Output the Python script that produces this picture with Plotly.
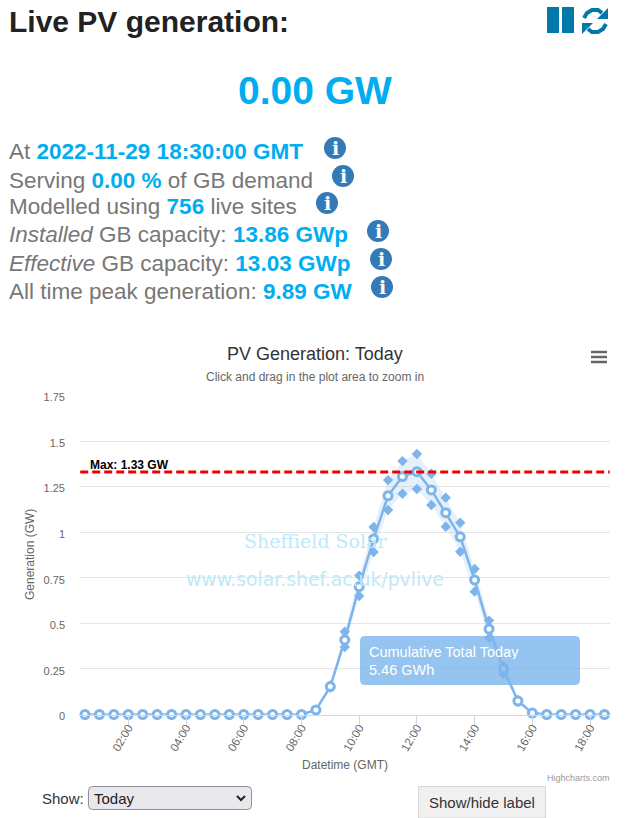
import plotly.graph_objects as go

W, H = 640, 818
times = ["00:30","01:00","01:30","02:00","02:30","03:00","03:30","04:00","04:30","05:00","05:30","06:00",
         "06:30","07:00","07:30","08:00","08:30","09:00","09:30","10:00","10:30","11:00","11:30","12:00",
         "12:30","13:00","13:30","14:00","14:30","15:00","15:30","16:00","16:30","17:00","17:30","18:00","18:30"]
generation = [0,0,0,0,0,0,0,0,0,0,0,0,0,0,0,0,0.025,0.153,0.409,0.701,0.963,1.20,1.305,1.332,
              1.232,1.107,0.975,0.738,0.469,0.251,0.074,0.008,0,0,0,0,0]
upper = [0,0,0,0,0,0,0,0,0,0,0,0,0,0,0,0,0.027,0.16,0.454,0.762,1.029,1.286,1.39,1.429,
         1.321,1.189,1.052,0.798,0.515,0.266,0.08,0.009,0,0,0,0,0]
lower = [0,0,0,0,0,0,0,0,0,0,0,0,0,0,0,0,0.023,0.147,0.37,0.65,0.891,1.122,1.211,1.237,
         1.149,1.03,0.893,0.674,0.42,0.222,0.07,0.007,0,0,0,0,0]
y_ticks = [0,0.25,0.5,0.75,1,1.25,1.5,1.75]
y_labels = ["0","0.25","0.5","0.75","1","1.25","1.5","1.75"]
x_ticks = ["02:00","04:00","06:00","08:00","10:00","12:00","14:00","16:00","18:00"]
max_value = 1.33

DAY = "2022-11-29 "
xs = [DAY + t for t in times]
BLUE = "#7cb5ec"
CYAN = "#00aeef"
GREY = "#777777"
FONT = "Liberation Sans"

def px(x): return x / W
def py(y): return 1 - y / H

fig = go.Figure()
fig.add_trace(go.Scatter(x=xs, y=lower, mode="lines", line=dict(width=0), showlegend=False, hoverinfo="skip"))
fig.add_trace(go.Scatter(x=xs, y=upper, mode="lines", line=dict(width=0), fill="tonexty",
                         fillcolor="rgba(124,181,236,0.2)", showlegend=False, hoverinfo="skip"))
for s in (upper, lower):
    fig.add_trace(go.Scatter(x=xs, y=s, mode="markers", showlegend=False,
                             marker=dict(symbol="diamond", size=8, color=BLUE)))
fig.add_trace(go.Scatter(x=xs, y=generation, mode="lines+markers", showlegend=False,
                         line=dict(color=BLUE, width=2.5),
                         marker=dict(symbol="circle", size=8, color="white", line=dict(color=BLUE, width=3))))
fig.add_trace(go.Scatter(x=[DAY + "00:20", DAY + "18:41"], y=[max_value, max_value], mode="lines", showlegend=False,
                         line=dict(color="#ee0000", width=3, dash="8px,4px")))

annotations = []
def text(x, y, s, size, color="#333333", anchor="left", vanchor="middle", angle=0, family=FONT, height=None):
    shift = {"left": -2, "right": 2, "center": 0}[anchor]
    a = dict(xref="paper", yref="paper", x=px(x + shift), y=py(y), text=s, showarrow=False,
             xanchor=anchor, yanchor=vanchor, align=anchor,
             textangle=angle, font=dict(size=size, color=color, family=family))
    if height:
        a.update(height=height, borderpad=0)
    annotations.append(a)

def b(s): return f'<b><span style="color:{CYAN}">{s}</span></b>'

text(9, 21, "<b>Live PV generation:</b>", 30, "#222222")
text(314.5, 90, "<b>0.00 GW</b>", 39, CYAN, "center")

lines = [
    (152, f"At {b('2022-11-29 18:30:00 GMT')}", 335),
    (180, f"Serving {b('0.00 %')} of GB demand", 343),
    (207, f"Modelled using {b('756')} live sites", 327),
    (235, f"<i>Installed</i> GB capacity: {b('13.86 GWp')}", 378),
    (263, f"<i>Effective</i> GB capacity: {b('13.03 GWp')}", 381),
    (291, f"All time peak generation: {b('9.89 GW')}", 382),
]
shapes = []
for y, s, ix in lines:
    text(9, y, s, 22.5, GREY)
    iy = y - 4
    shapes.append(dict(type="circle", xref="paper", yref="paper", layer="above", x0=px(ix-11), x1=px(ix+11),
                       y0=py(iy-11), y1=py(iy+11), fillcolor="#337ab7", line=dict(width=0)))
    text(ix, iy, "<b>i</b>", 19, "white", "center", family="DejaVu Serif")

# pause and refresh icons
for x0, x1 in ((547, 559), (562, 574)):
    shapes.append(dict(type="rect", xref="paper", yref="paper", x0=px(x0), x1=px(x1), y0=py(33), y1=py(7),
                       fillcolor="#0078a8", line=dict(width=0)))
def path(points):
    return "M " + " L ".join(f"{px(x):.5f},{py(y):.5f}" for x, y in points)
def rounded(x0, x1, y0, y1, r):
    return (f"M {px(x0+r)},{py(y0)} L {px(x1-r)},{py(y0)} Q {px(x1)},{py(y0)} {px(x1)},{py(y0+r)} "
            f"L {px(x1)},{py(y1-r)} Q {px(x1)},{py(y1)} {px(x1-r)},{py(y1)} L {px(x0+r)},{py(y1)} "
            f"Q {px(x0)},{py(y1)} {px(x0)},{py(y1-r)} L {px(x0)},{py(y0+r)} Q {px(x0)},{py(y0)} {px(x0+r)},{py(y0)} Z")
arc1 = [(584,18),(587,13),(592,10),(598,10),(602,13)]
arc2 = [(606,24),(603,29),(598,32),(592,32),(588,29)]
for pts in (arc1, arc2):
    shapes.append(dict(type="path", xref="paper", yref="paper", path=path(pts), line=dict(color="#0078a8", width=4)))
for pts in ([(608,8),(608,19),(597,19)], [(582,34),(582,23),(593,23)]):
    shapes.append(dict(type="path", xref="paper", yref="paper", path=path(pts) + " Z", fillcolor="#0078a8",
                       line=dict(width=0)))

# chart furniture
text(315, 354, "PV Generation: Today", 18, "#333333", "center")
text(315, 377, "Click and drag in the plot area to zoom in", 12, "#666666", "center")
for y in (352, 357, 362):
    shapes.append(dict(type="line", xref="paper", yref="paper", x0=px(591), x1=px(607), y0=py(y), y1=py(y),
                       line=dict(color="#666666", width=2.5)))
text(90, 465, "<b>Max: 1.33 GW</b>", 12, "#000000")
text(315, 541, "Sheffield Solar", 19, "#bfe9f8", "center", family="DejaVu Serif")
text(315, 579, "www.solar.shef.ac.uk/pvlive", 18.8, "#bfe9f8", "center", family="DejaVu Sans")
text(30, 555, "Generation (GW)", 12, "#666666", "center", angle=-90)
text(345, 765, "Datetime (GMT)", 12, "#666666", "center")
text(610, 778, "Highcharts.com", 9, "#999999", "right")

shapes.append(dict(type="path", xref="paper", yref="paper", layer="above", path=rounded(360, 580, 636, 685, 5),
                   fillcolor="rgba(124,181,236,0.8)", line=dict(width=0)))
text(370, 652, "Cumulative Total Today", 14.5, "white", height=14)
text(370, 669.5, "5.46 GWh", 14.5, "white", height=14)

# page controls
text(42, 798, "Show:", 15, "#333333")
shapes.append(dict(type="path", xref="paper", yref="paper", path=rounded(88.5, 251.5, 786.5, 809.5, 4),
                   fillcolor="#e9e9ed", line=dict(color="#8f8f9d", width=1)))
text(94, 798, "Today", 15, "#222222")
shapes.append(dict(type="path", xref="paper", yref="paper", path=path([(237,796),(241,800),(245,796)]),
                   line=dict(color="#222222", width=2)))
shapes.append(dict(type="rect", xref="paper", yref="paper", x0=px(418.5), x1=px(545.5), y0=py(818), y1=py(786.5),
                   fillcolor="#f0f0f0", line=dict(color="#d8d8d8", width=1)))
text(482, 802, "Show/hide label", 15, "#333333", "center")

fig.update_layout(
    width=W, height=H, margin=dict(l=0, r=0, t=0, b=0, pad=0, autoexpand=False),
    paper_bgcolor="white", plot_bgcolor="white",
    showlegend=False, shapes=shapes, annotations=annotations, hovermode=False,
    xaxis=dict(domain=[px(80), px(610)], type="date", range=[DAY + "00:19:36", DAY + "18:41:26"],
               tickvals=[DAY + t for t in x_ticks], ticktext=x_ticks, tickangle=-60, ticks="outside",
               ticklen=10, tickcolor="#ccd6eb", showgrid=False, showline=True, linecolor="#ccd6eb", linewidth=1,
               zeroline=False, ticklabelstandoff=-9, tickfont=dict(size=11.5, color="#666666", family=FONT)),
    yaxis=dict(domain=[py(714.5), py(395.5)], range=[0, 1.75], tickvals=y_ticks, ticktext=y_labels,
               showgrid=True, gridcolor="#e6e6e6", gridwidth=1, zeroline=False, showline=False,
               ticks="", ticklabelstandoff=14, ticklabelshift=2, tickfont=dict(size=11, color="#666666", family=FONT)),
)
fig.update_traces(cliponaxis=False)
fig.write_html("out.html", config=dict(displayModeBar=False), post_script="document.body.style.margin='0';")
